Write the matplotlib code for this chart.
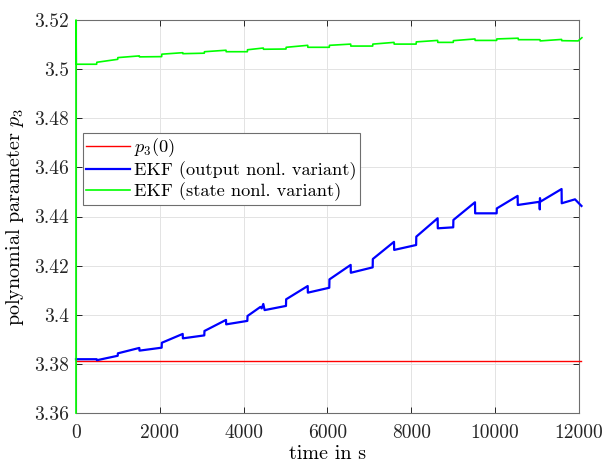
import matplotlib
matplotlib.use("Agg")
import matplotlib.pyplot as plt
from matplotlib.ticker import FuncFormatter

plt.rcParams['font.family'] = 'serif'
plt.rcParams['font.serif'] = ['cmr10']
plt.rcParams['mathtext.fontset'] = 'cm'
plt.rcParams['axes.formatter.use_mathtext'] = True

# initial parameter value
t_ref = [0, 12060]
p3_ref = [3.3811, 3.3811]

# EKF, output nonlinearity variant
t_out = [0, 493, 500, 995, 1000, 1511, 1515, 2044, 2048, 2546, 2550, 3061, 3065,
         3579, 3583, 4088, 4092, 4400, 4430, 4469, 4500, 5010, 5014, 5528, 5532,
         6043, 6047, 6553, 6557, 7078, 7082, 7587, 7591, 8115, 8119, 8628, 8632,
         9000, 9004, 9519, 9523, 10036, 10040, 10536, 10540, 11060, 11065, 11070,
         11075, 11585, 11589, 11905, 12060]
p3_out = [3.3819, 3.3819, 3.3815, 3.3833, 3.3843, 3.3865, 3.3854, 3.3866, 3.3886,
          3.3922, 3.3904, 3.3916, 3.3934, 3.3979, 3.3961, 3.3975, 3.3995, 3.4032,
          3.4026, 3.4044, 3.4019, 3.4036, 3.4063, 3.4117, 3.4090, 3.4110, 3.4144,
          3.4203, 3.4171, 3.4193, 3.4227, 3.4297, 3.4264, 3.4284, 3.4318, 3.4393,
          3.4352, 3.4356, 3.4386, 3.4458, 3.4413, 3.4413, 3.4433, 3.4484, 3.4447,
          3.4460, 3.4429, 3.4475, 3.4460, 3.4512, 3.4454, 3.4470, 3.4443]

# EKF, state nonlinearity variant
t_state = [0, 0, 8, 493, 497, 995, 999, 1511, 1515, 2044, 2048, 2546, 2550, 3061,
           3065, 3579, 3583, 4088, 4092, 4469, 4473, 5010, 5014, 5528, 5532, 6043,
           6047, 6553, 6557, 7078, 7082, 7587, 7591, 8115, 8119, 8628, 8632, 9000,
           9004, 9519, 9523, 10036, 10040, 10550, 10554, 11070, 11074, 11585, 11589,
           11980, 12070]
p3_state = [3.36, 3.52, 3.5020, 3.5020, 3.5028, 3.5040, 3.5047, 3.5054, 3.5050,
            3.5051, 3.5061, 3.5067, 3.5063, 3.5065, 3.5071, 3.5077, 3.5071, 3.5071,
            3.5079, 3.5086, 3.5081, 3.5082, 3.5089, 3.5097, 3.5089, 3.5089, 3.5097,
            3.5102, 3.5094, 3.5094, 3.5102, 3.5109, 3.5102, 3.5102, 3.5111, 3.5117,
            3.5109, 3.5109, 3.5116, 3.5123, 3.5117, 3.5117, 3.5123, 3.5126, 3.5120,
            3.5120, 3.5115, 3.5121, 3.5116, 3.5115, 3.5128]

x_ticks = [0, 2000, 4000, 6000, 8000, 10000, 12000]
y_ticks = [3.36, 3.38, 3.40, 3.42, 3.44, 3.46, 3.48, 3.50, 3.52]

fig = plt.figure(figsize=(6.06, 4.68), dpi=100)
ax = fig.add_axes([0.1254, 0.1175, 0.830, 0.8397])

ax.plot(t_ref, p3_ref, color=(1, 0, 0), lw=1.0, label='$p_3(0)$', clip_on=False, zorder=3)
ax.plot(t_out, p3_out, color=(0, 0, 1), lw=1.6, label='EKF (output nonl. variant)',
        clip_on=False, zorder=4)
ax.plot(t_state, p3_state, color=(0, 1, 0), lw=1.2, label='EKF (state nonl. variant)',
        clip_on=False, zorder=5)

ax.set_xlim(0, 12000)
ax.set_ylim(3.36, 3.52)
ax.set_xticks(x_ticks)
ax.set_yticks(y_ticks)
ax.yaxis.set_major_formatter(FuncFormatter(lambda v, p: '%g' % round(v, 2)))
ax.xaxis.set_major_formatter(FuncFormatter(lambda v, p: '%d' % v))
ax.grid(True, color='#e3e3e3', lw=0.7)
ax.set_axisbelow(True)
ax.tick_params(direction='in', top=True, right=True, length=4, width=0.7,
               colors='#262626', labelsize=14)
ax.tick_params(axis='x', pad=8)
ax.tick_params(axis='y', pad=5)
for s in ax.spines.values():
    s.set_color('#6e6e6e')
    s.set_linewidth(0.8)

ax.set_xlabel('time in s', fontsize=14.5, labelpad=2)
ax.set_ylabel('polynomial parameter $p_3$', fontsize=14.5, labelpad=6)

leg = ax.legend(loc='upper left', bbox_to_anchor=(0.013, 0.713), fontsize=13.2,
                fancybox=False, framealpha=1, edgecolor='#6e6e6e',
                handlelength=2.4, handletextpad=0.2, borderaxespad=0,
                borderpad=0.2, labelspacing=0.12)
leg.get_frame().set_linewidth(0.8)

fig.savefig('out.png', dpi=100)
